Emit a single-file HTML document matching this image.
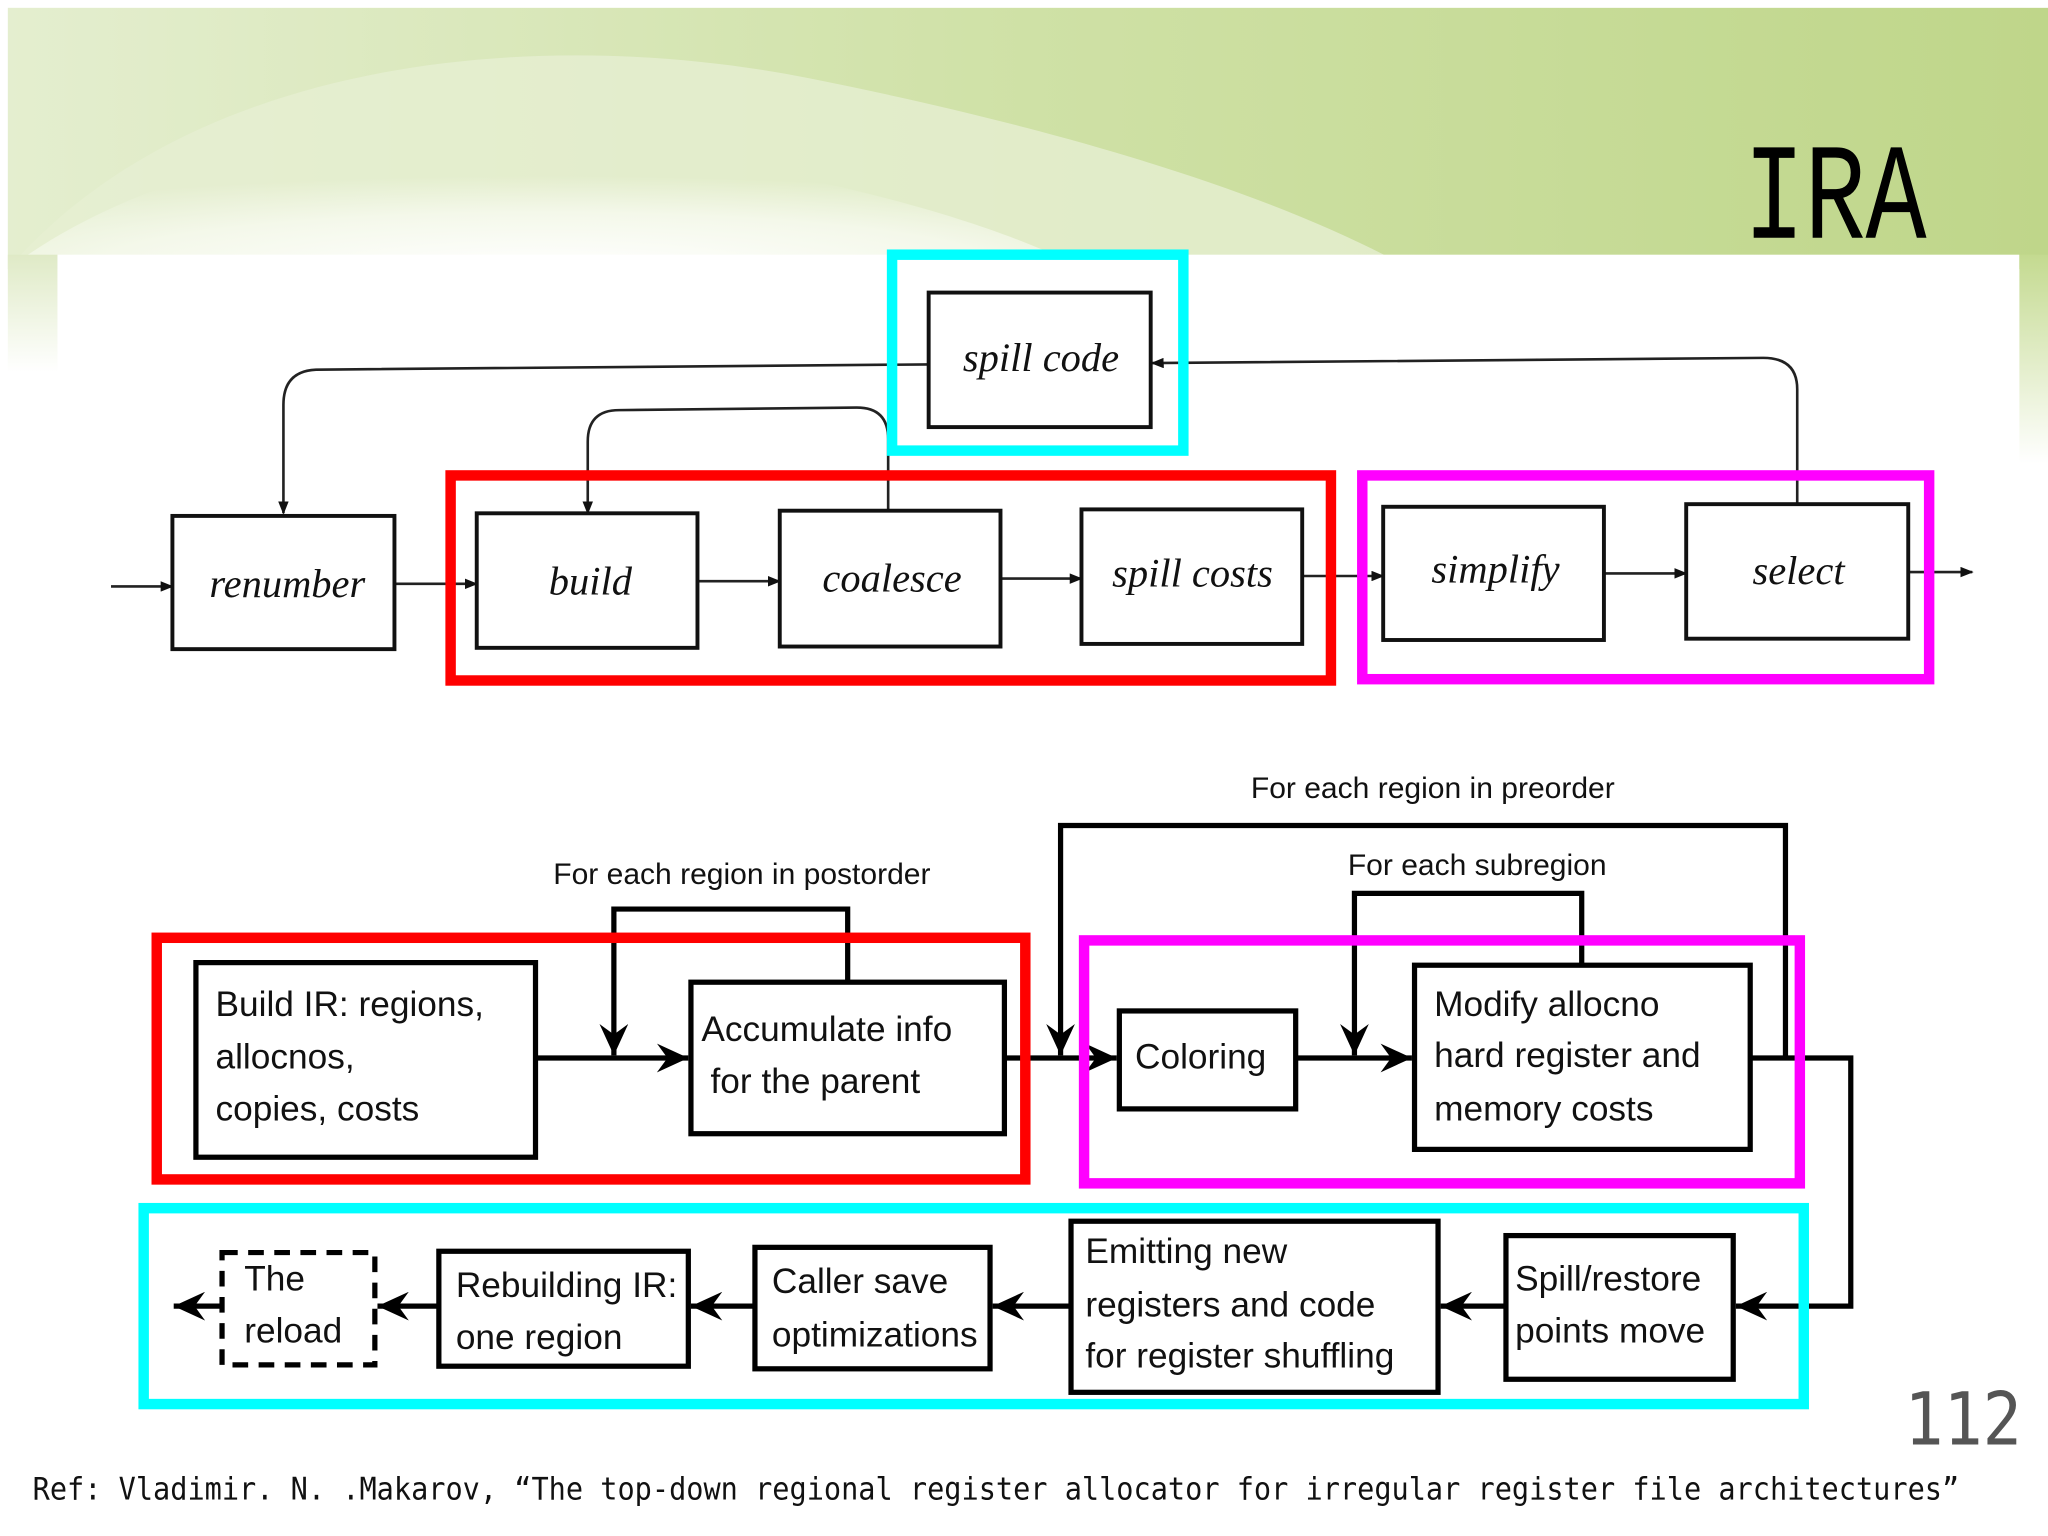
<!DOCTYPE html>
<html><head><meta charset="utf-8"><style>
html,body{margin:0;padding:0;background:#fff}
svg{display:block}
.s{font-family:"Liberation Serif",serif;font-style:italic;font-size:31px;fill:#111}
.t{font-family:"Liberation Sans",sans-serif;font-size:27px;fill:#111}
.l{font-family:"Liberation Sans",sans-serif;font-size:23px;fill:#111}
</style></head><body>
<svg width="2048" height="1536" viewBox="0 0 1568 1176" xmlns="http://www.w3.org/2000/svg">
<defs>
<linearGradient id="g1" x1="0" y1="0" x2="1" y2="0">
<stop offset="0" stop-color="#e4eecf"/><stop offset="0.5" stop-color="#cfe1a6"/><stop offset="1" stop-color="#bfd68a"/>
</linearGradient>
<radialGradient id="w1" cx="0.5" cy="1" r="0.7">
<stop offset="0" stop-color="#ffffff"/><stop offset="0.6" stop-color="#f4f8ea"/><stop offset="1" stop-color="#f4f8ea" stop-opacity="0"/>
</radialGradient>
<linearGradient id="lf" x1="0" y1="0" x2="0" y2="1">
<stop offset="0" stop-color="#dfeac6"/><stop offset="1" stop-color="#ffffff"/>
</linearGradient>
<linearGradient id="rf" x1="0" y1="0" x2="0" y2="1">
<stop offset="0" stop-color="#c4da90"/><stop offset="1" stop-color="#ffffff"/>
</linearGradient>
<marker id="a" markerWidth="10" markerHeight="8" refX="9" refY="4" orient="auto" markerUnits="userSpaceOnUse"><path d="M0,0 L10,4 L0,8 Z" fill="#111"/></marker>
<marker id="b" markerWidth="26" markerHeight="22" refX="24" refY="11" orient="auto" markerUnits="userSpaceOnUse"><path d="M0,0 L24,11 L0,22 L8,11 Z" fill="#000"/></marker>
</defs>
<rect x="0" y="0" width="1568" height="1176" fill="#fff"/>
<rect x="6" y="6" width="1562" height="200" fill="url(#g1)"/>
<path d="M6,206 C150,40 420,20 620,60 C820,100 980,150 1080,206 Z" fill="#e6efd2" opacity="0.8"/>
<path d="M6,206 C120,120 300,90 460,110 C640,135 760,170 830,206 Z" fill="url(#w1)"/>
<rect x="6" y="195" width="38" height="90" fill="url(#lf)"/>
<rect x="1546" y="195" width="22" height="160" fill="url(#rf)"/>
<rect x="44" y="195" width="1502" height="981" fill="#fff"/>
<text x="1335" y="182" font-family="Liberation Mono,monospace" font-size="105" textLength="140" lengthAdjust="spacingAndGlyphs" fill="#000">IRA</text>
<text x="1458" y="1106" font-family="DejaVu Sans Mono,monospace" font-size="56" textLength="90" lengthAdjust="spacingAndGlyphs" fill="#555">112</text>
<text x="25" y="1148" font-family="DejaVu Sans Mono,monospace" font-size="24" textLength="1475" lengthAdjust="spacingAndGlyphs" fill="#111">Ref:  Vladimir. N. .Makarov, “The top-down regional register allocator for irregular register file architectures”</text>

<g fill="none" stroke="#222" stroke-width="2">
<line x1="85" y1="449" x2="132" y2="449" marker-end="url(#a)"/>
<line x1="302" y1="447" x2="365" y2="447" marker-end="url(#a)"/>
<line x1="534" y1="445" x2="597" y2="445" marker-end="url(#a)"/>
<line x1="766" y1="443" x2="828" y2="443" marker-end="url(#a)"/>
<line x1="997" y1="441" x2="1059" y2="441" marker-end="url(#a)"/>
<line x1="1228" y1="439" x2="1291" y2="439" marker-end="url(#a)"/>
<line x1="1461" y1="438" x2="1510" y2="438" marker-end="url(#a)"/>
<path d="M711,279 L242,283 Q217,284 217,310 L217,393" marker-end="url(#a)"/>
<path d="M1376,386 L1376,298 Q1376,274 1350,274 L882,278" marker-end="url(#a)"/>
<path d="M680,391 L680,336 Q680,312 656,312 L474,314 Q450,314 450,338 L450,393" marker-end="url(#a)"/>
</g>
<g fill="#fff" stroke="#111" stroke-width="3">
<rect x="132" y="395" width="170" height="102"/>
<rect x="365" y="393" width="169" height="103"/>
<rect x="597" y="391" width="169" height="104"/>
<rect x="828" y="390" width="169" height="103"/>
<rect x="1059" y="388" width="169" height="102"/>
<rect x="1291" y="386" width="170" height="103"/>
<rect x="711" y="224" width="170" height="103"/>
</g>
<g class="s" text-anchor="middle">
<text x="220" y="457" class="s">renumber</text>
<text x="452" y="455" class="s">build</text>
<text x="683" y="453" class="s">coalesce</text>
<text x="913" y="449" class="s">spill costs</text>
<text x="1145" y="446" class="s">simplify</text>
<text x="1377" y="447" class="s">select</text>
<text x="797" y="284" class="s">spill code</text>
</g>
<g fill="none" stroke-width="8">
<rect x="683" y="195" width="223" height="150" stroke="#00ffff"/>
<rect x="345" y="364" width="674" height="157" stroke="#ff0000"/>
<rect x="1043" y="364" width="434" height="156" stroke="#ff00ff"/>
</g>

<text x="1097" y="611" class="l" text-anchor="middle">For each region in preorder</text>
<text x="1131" y="670" class="l" text-anchor="middle">For each subregion</text>
<text x="568" y="677" class="l" text-anchor="middle">For each region in postorder</text>
<g fill="none" stroke="#000" stroke-width="4">
<line x1="410" y1="810" x2="527" y2="810" marker-end="url(#b)"/>
<path d="M649,752 L649,696 L470,696 L470,808" marker-end="url(#b)"/>
<line x1="769" y1="810" x2="855" y2="810" marker-end="url(#b)"/>
<path d="M1367,810 L1367,632 L812,632 L812,808" marker-end="url(#b)"/>
<line x1="992" y1="810" x2="1081" y2="810" marker-end="url(#b)"/>
<path d="M1211,739 L1211,684 L1037,684 L1037,808" marker-end="url(#b)"/>
<path d="M1340,810 L1417,810 L1417,1000 L1329,1000" marker-end="url(#b)"/>
<line x1="1153" y1="1000" x2="1103" y2="1000" marker-end="url(#b)"/>
<line x1="820" y1="1000" x2="760" y2="1000" marker-end="url(#b)"/>
<line x1="578" y1="1000" x2="529" y2="1000" marker-end="url(#b)"/>
<line x1="336" y1="1000" x2="289" y2="1000" marker-end="url(#b)"/>
<line x1="170" y1="1000" x2="133" y2="1000" marker-end="url(#b)"/>
</g>
<g fill="#fff" stroke="#000" stroke-width="4">
<rect x="150" y="737" width="260" height="149"/>
<rect x="529" y="752" width="240" height="116"/>
<rect x="857" y="774" width="135" height="75"/>
<rect x="1083" y="739" width="257" height="141"/>
<rect x="1153" y="946" width="174" height="110"/>
<rect x="820" y="935" width="281" height="131"/>
<rect x="578" y="955" width="180" height="93"/>
<rect x="336" y="958" width="191" height="88"/>
<rect x="170" y="959" width="117" height="86" stroke-dasharray="12,8"/>
</g>
<g class="t">
<text x="165" y="778" class="t">Build IR: regions,</text>
<text x="165" y="818" class="t">allocnos,</text>
<text x="165" y="858" class="t">copies, costs</text>
<text x="537" y="797" class="t">Accumulate info</text>
<text x="544" y="837" class="t">for the parent</text>
<text x="869" y="818" class="t">Coloring</text>
<text x="1098" y="778" class="t">Modify allocno</text>
<text x="1098" y="817" class="t">hard register and</text>
<text x="1098" y="858" class="t">memory costs</text>
<text x="1160" y="988" class="t">Spill/restore</text>
<text x="1160" y="1028" class="t">points move</text>
<text x="831" y="967" class="t">Emitting new</text>
<text x="831" y="1008" class="t">registers and code</text>
<text x="831" y="1047" class="t">for register shuffling</text>
<text x="591" y="990" class="t">Caller save</text>
<text x="591" y="1031" class="t">optimizations</text>
<text x="349" y="993" class="t">Rebuilding IR:</text>
<text x="349" y="1033" class="t">one region</text>
<text x="187" y="988" class="t">The</text>
<text x="187" y="1028" class="t">reload</text>
</g>
<g fill="none" stroke-width="8">
<rect x="120" y="718" width="665" height="185" stroke="#ff0000"/>
<rect x="830" y="720" width="548" height="186" stroke="#ff00ff"/>
<rect x="110" y="925" width="1271" height="150" stroke="#00ffff"/>
</g>
</svg>
</body></html>
